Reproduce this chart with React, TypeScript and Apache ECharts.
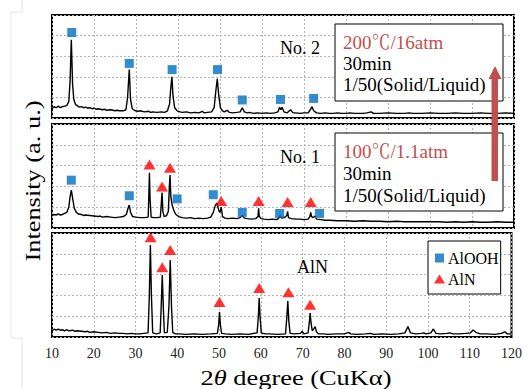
import React, { useEffect, useRef } from "react";
import * as echarts from "echarts";

// ---- data (2θ in degrees, intensity in relative units 0..100 per panel) ----
const X_MIN = 10;
const X_MAX = 120;
const X_STEP = 10;

const no2Profile: [number, number][] = [
  [10, 9], [10.5, 11], [11, 10], [11.5, 11.5], [12, 10], [12.5, 11], [13, 11.5], [13.5, 12], [14, 16], [14.3, 35], [14.6, 76], [14.9, 33], [15.2, 18], [15.6, 13], [16, 12], [16.5, 10.5], [17, 11], [17.5, 10], [18, 10.5], [18.5, 9.5], [19, 10], [19.5, 9], [20, 9.5], [20.5, 8.5], [21, 9], [22, 8], [22.5, 8.5], [23, 7.5], [24, 8], [25, 7], [25.5, 7.5], [26, 7], [27, 7], [27.6, 8], [28.0, 20], [28.4, 47], [28.7, 18], [29.1, 9], [29.8, 7], [30.5, 6.5], [31, 7], [32, 6], [33, 6.5], [33.5, 5.5], [34, 6], [35, 5.5], [36, 6], [36.8, 5.5], [37.5, 7], [38.0, 14], [38.3, 30], [38.55, 40], [38.8, 22], [39.2, 10], [39.8, 7], [40.5, 6], [41, 5.5], [42, 6], [43, 5], [44, 5.5], [45, 5], [45.8, 6.5], [46.2, 5], [47, 5.5], [48, 6], [48.6, 10], [49.0, 26], [49.35, 38], [49.7, 22], [50.1, 10], [50.6, 7], [51, 6], [51.7, 7.5], [52.2, 5.5], [53, 5], [54, 5.5], [54.8, 6], [55.3, 10], [55.8, 6], [56.5, 5], [57, 5.5], [58, 4.5], [59, 5], [60, 4.5], [61, 5], [62, 4.5], [63, 5], [63.8, 6], [64.2, 10.5], [64.5, 8], [64.8, 10.5], [65.2, 6], [66, 5], [66.8, 8], [67.4, 5], [68, 5], [69, 4.5], [70, 5], [71, 5], [71.5, 8], [71.9, 11], [72.3, 7], [73, 5], [74, 4.5], [75, 5], [76, 4.5], [77, 4.5], [78, 5], [79, 4.5], [80, 4.5], [81, 5], [82, 4.5], [84, 4.5], [85, 5], [86, 6], [86.5, 4.5], [88, 4.5], [90, 5], [92, 4.5], [94, 4.5], [95, 5], [96, 4.5], [98, 4.5], [100, 5], [102, 4.5], [104, 4.5], [106, 5], [108, 4.5], [110, 4.5], [112, 5], [114, 4.5], [116, 4.5], [118, 5], [120, 4.5],
];

const no1Profile: [number, number][] = [
  [10, 12], [10.5, 13], [11, 12.5], [11.5, 13.5], [12, 12.5], [12.5, 13], [13, 14], [13.5, 15], [14, 20], [14.3, 30], [14.6, 36.5], [14.9, 29], [15.3, 19], [15.8, 15], [16.3, 13.5], [17, 13], [17.5, 12], [18, 12.5], [19, 12], [20, 11.5], [21, 11], [21.5, 11.5], [22, 10.5], [23, 11], [24, 10.5], [25, 10], [26, 10.5], [27, 11], [27.7, 13], [28.1, 19], [28.4, 22], [28.7, 15], [29.2, 11], [30, 10.5], [31, 10], [32, 10], [32.9, 10.5], [33.05, 30], [33.2, 53], [33.35, 28], [33.6, 10.5], [34.2, 10], [35, 10], [35.8, 10.5], [36.0, 22], [36.2, 34], [36.4, 16], [36.7, 11], [37.3, 12], [37.7, 16], [37.95, 40], [38.1, 51], [38.3, 30], [38.6, 22], [39.0, 17], [39.5, 13], [40.2, 11], [41, 10], [42, 9.5], [43, 10], [44, 9], [45, 9.5], [46, 9], [47, 9.5], [47.8, 10.5], [48.4, 15], [48.9, 22], [49.3, 24], [49.7, 17], [50.0, 15], [50.3, 20], [50.6, 11], [51.2, 9.5], [52, 9], [53, 9.5], [54, 9], [54.8, 10], [55.3, 12], [55.8, 9.5], [56.5, 9], [57.5, 8.5], [58.5, 9], [59.05, 11], [59.2, 19], [59.35, 11], [59.8, 9], [60.5, 8.5], [61.5, 8], [62.5, 8.5], [63.5, 8], [64.0, 9.5], [64.3, 12], [64.7, 9.5], [65.3, 10], [65.9, 12], [66.1, 16], [66.3, 10], [67, 9], [68, 8.5], [69, 8.5], [70, 8], [71, 8.5], [71.4, 11], [71.6, 15], [71.8, 11], [72.2, 10], [72.6, 11.5], [73, 8.5], [74, 8], [75, 7.5], [76, 7.5], [78, 7], [80, 7], [82, 6.5], [84, 7], [86, 6.5], [88, 6.5], [90, 6], [92, 6.5], [94, 6], [96, 6], [98, 6], [100, 6], [102, 6], [104, 5.5], [106, 6], [108, 5.5], [110, 6], [112, 5.5], [114, 5.5], [116, 6], [118, 5.5], [120, 5.5],
];

const alnProfile: [number, number][] = [
  [10, 6], [10.5, 7.5], [11, 6.5], [11.5, 7.5], [12, 6.5], [12.5, 7], [13, 6], [13.5, 7], [14, 6], [15, 6.5], [15.5, 5.5], [16, 6], [17, 5.5], [18, 5], [18.5, 5.5], [19, 4.5], [20, 5], [21, 4.5], [22, 4], [23, 4.5], [24, 3.5], [25, 4], [26, 3.5], [27, 3.5], [28, 3], [29, 3.5], [30, 3], [31, 3], [32, 3.5], [33.0, 4], [33.3, 40], [33.55, 88.5], [33.8, 40], [34.1, 4], [35, 3], [35.9, 4], [36.15, 30], [36.4, 59.6], [36.65, 28], [36.9, 4], [37.6, 4.5], [38.0, 30], [38.3, 74], [38.6, 30], [38.9, 4.5], [39.5, 3], [40.5, 3], [42, 2.5], [44, 3], [46, 2.5], [48, 3], [49.6, 3.5], [49.9, 12], [50.1, 24], [50.3, 12], [50.6, 3.5], [51.5, 3], [53, 2.5], [55, 3], [57, 2.5], [59.1, 4], [59.4, 20], [59.6, 37.5], [59.8, 20], [60.1, 4], [61, 3], [62, 3], [64, 2.5], [65.9, 3], [66.2, 18], [66.45, 34.6], [66.7, 15], [67, 3.5], [68, 3], [69.5, 3.5], [69.9, 5.5], [70.3, 3], [71.3, 4], [71.6, 14], [71.8, 23], [72.0, 14], [72.3, 6], [72.7, 8], [73.0, 10], [73.3, 5], [73.8, 3], [75, 3], [76, 2.5], [78, 3], [80, 3], [81, 4.5], [81.5, 3], [83, 2.5], [85, 3], [86.3, 3.5], [87, 2.5], [89, 3], [91, 2.5], [93, 3], [94.5, 4], [95.2, 10], [95.8, 4], [97, 3], [98.5, 3.5], [99, 4], [99.5, 3], [100.7, 4], [101.3, 7.7], [101.9, 3.5], [103, 3], [104.5, 3.5], [105.2, 4], [106, 3], [107.5, 3], [109, 3.5], [110.2, 4], [110.8, 6.7], [111.5, 4.5], [112.5, 3], [114, 3], [116, 2.5], [117.6, 3.5], [118.4, 5], [119, 3], [120, 3],
];

// peak markers
const no2AlOOH: [number, number][] = [[14.7, 83], [28.4, 53], [38.6, 47], [49.4, 47], [55.3, 17.5], [64.4, 18], [72.3, 19]];
const no1AlOOH: [number, number][] = [[14.6, 46], [28.4, 31], [39.8, 28], [48.4, 32], [55.3, 15], [64.2, 14], [73.7, 14]];
const no1AlN: [number, number][] = [[33.2, 61], [36.2, 40], [38.1, 58], [50.3, 26], [59.2, 26], [66.1, 25], [71.6, 25]];
const alnAlN: [number, number][] = [[33.6, 96], [36.4, 67], [38.3, 83.7], [50.1, 33.7], [59.6, 47], [66.6, 43], [71.8, 31]];

const panelLabels = ["No. 2", "No. 1", "AlN"];
const conditionNo2 = ["200℃/16atm", "30min", "1/50(Solid/Liquid)"];
const conditionNo1 = ["100℃/1.1atm", "30min", "1/50(Solid/Liquid)"];
const legendNames = ["AlOOH", "AlN"];

const SERIF = "Liberation Serif, Times New Roman, Noto Serif CJK SC, Noto Sans CJK SC, serif";
const BLUE = "#0070C0";
const RED = "#FF0000";
const DARKRED = "#C0504D";

export default function App() {
  const ref = useRef<HTMLDivElement>(null);

  useEffect(() => {
    document.body.style.margin = "0";
    if (!ref.current) return;
    const chart = echarts.init(ref.current, undefined, { renderer: "svg" });

    const tops = [15, 124, 233];
    const heights = [103, 104, 104];
    const grids = tops.map((t, i) => ({
      left: 52,
      top: t,
      width: 462,
      height: heights[i],
      show: true,
      borderColor: "#000",
      borderWidth: 2,
      backgroundColor: "transparent",
    }));

    const split = { show: true, lineStyle: { color: "#b4b4b4", width: 1, type: [2, 2] as any } };

    const xAxes = [0, 1, 2].map((i) => ({
      type: "value",
      gridIndex: i,
      min: X_MIN,
      max: X_MAX,
      interval: X_STEP,
      axisLine: { show: false },
      axisTick: { show: false },
      axisLabel: {
        show: i === 2,
        margin: 9,
        fontSize: 14,
        fontFamily: SERIF,
        color: "#222",
      },
      splitLine: split,
    }));
    const yAxes = [0, 1, 2].map((i) => ({
      type: "value",
      gridIndex: i,
      min: 0,
      max: 100,
      interval: 20,
      axisLine: { show: false },
      axisTick: { show: false },
      axisLabel: { show: false },
      splitLine: split,
    }));

    const lineSeries = (data: [number, number][], idx: number) => ({
      type: "line",
      xAxisIndex: idx,
      yAxisIndex: idx,
      data,
      showSymbol: false,
      symbol: "none",
      lineStyle: { color: "#000", width: 1.4 },
      silent: true,
      z: 2,
    });
    const sq = (data: [number, number][], idx: number) => ({
      name: "AlOOH",
      type: "scatter",
      xAxisIndex: idx,
      yAxisIndex: idx,
      data,
      symbol: "rect",
      symbolSize: [9, 9],
      itemStyle: { color: BLUE },
      z: 3,
    });
    const tri = (data: [number, number][], idx: number) => ({
      name: "AlN",
      type: "scatter",
      xAxisIndex: idx,
      yAxisIndex: idx,
      data,
      symbol: "triangle",
      symbolSize: [12, 10],
      itemStyle: { color: RED },
      z: 3,
    });

    const txt = (text: string, x: number, y: number, size: number, fill = "#000") => ({
      type: "text",
      x,
      y,
      z: 10,
      style: { text, fill, fontSize: size, fontFamily: SERIF, align: "left", verticalAlign: "middle" },
    });

    const graphics: any[] = [
      {
        type: "polyline",
        z: 0,
        shape: { points: [[22, 0], [22, 12], [11, 12], [11, 338], [22, 338], [22, 389]] },
        style: { stroke: "#e6e6e6", lineWidth: 1, fill: "none" },
      },
      txt(panelLabels[0], 280, 48, 18),
      txt(panelLabels[1], 280, 157, 18),
      txt(panelLabels[2], 297, 267, 18),
      {
        type: "rect",
        z: 9,
        shape: { x: 335, y: 24, width: 168, height: 77 },
        style: { fill: "#fff", stroke: "#000", lineWidth: 1 },
      },
      txt(conditionNo2[0], 343, 42, 19, DARKRED),
      txt(conditionNo2[1], 343, 63, 19),
      txt(conditionNo2[2], 343, 84, 19),
      {
        type: "rect",
        z: 9,
        shape: { x: 335, y: 133, width: 168, height: 78 },
        style: { fill: "#fff", stroke: "#000", lineWidth: 1 },
      },
      txt(conditionNo1[0], 343, 151, 19, DARKRED),
      txt(conditionNo1[1], 343, 173, 19),
      txt(conditionNo1[2], 343, 195, 19),
      {
        type: "rect",
        z: 12,
        shape: { x: 491.5, y: 78, width: 6.5, height: 103 },
        style: { fill: DARKRED },
      },
      {
        type: "polygon",
        z: 12,
        shape: { points: [[488.5, 79], [501.5, 79], [495, 66]] },
        style: { fill: DARKRED },
      },
      {
        type: "text",
        x: 32,
        y: 181,
        rotation: Math.PI / 2,
        scaleX: 1.2,
        z: 10,
        style: {
          text: "Intensity (a. u.)",
          fill: "#000",
          fontSize: 22,
          fontFamily: SERIF,
          align: "center",
          verticalAlign: "middle",
        },
      },
      {
        type: "text",
        x: 296,
        y: 377,
        scaleX: 1.2,
        z: 10,
        style: {
          text: "2{i|θ} degree (CuKα)",
          fill: "#000",
          fontSize: 22,
          fontFamily: SERIF,
          align: "center",
          verticalAlign: "middle",
          rich: {
            i: { fontSize: 22, fontFamily: SERIF, fontStyle: "italic", fill: "#000" },
          },
        },
      },
    ];

    chart.setOption({
      animation: false,
      backgroundColor: "#fff",
      grid: grids,
      xAxis: xAxes,
      yAxis: yAxes,
      legend: {
        data: [
          { name: legendNames[0], icon: "path://M0,0h1v1h-1z", itemStyle: { color: BLUE } },
          { name: legendNames[1], icon: "triangle", itemStyle: { color: RED } },
        ],
        orient: "vertical",
        left: 428,
        top: 241,
        itemWidth: 11,
        itemHeight: 9,
        itemGap: 5,
        padding: [9, 2, 7, 6],
        borderColor: "#000",
        borderWidth: 1,
        backgroundColor: "#fff",
        selectedMode: false,
        textStyle: { fontFamily: SERIF, fontSize: 16, color: "#000", padding: [0, 0, 0, -2] },
        z: 10,
      },
      graphic: graphics,
      series: [
        lineSeries(no2Profile, 0),
        sq(no2AlOOH, 0),
        lineSeries(no1Profile, 1),
        sq(no1AlOOH, 1),
        tri(no1AlN, 1),
        lineSeries(alnProfile, 2),
        tri(alnAlN, 2),
      ],
    });

    return () => chart.dispose();
  }, []);

  return <div ref={ref} style={{ width: 525, height: 389 }} />;
}
